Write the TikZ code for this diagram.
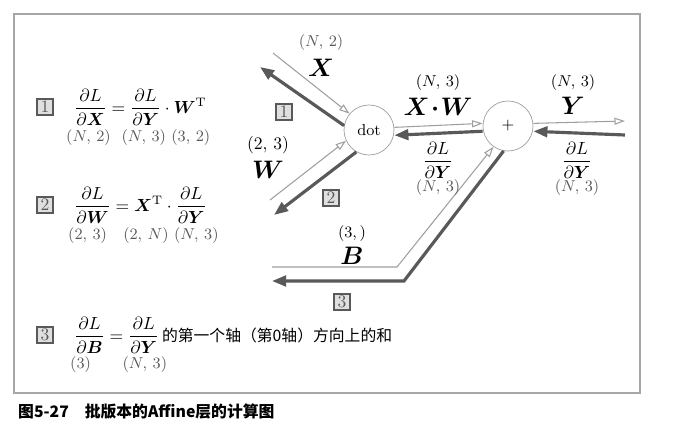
\documentclass[tikz,border=0pt]{standalone}
\usepackage{amsmath,bm}
\usepackage{fontspec}
\newfontfamily\cjk{Noto Sans CJK SC}
\usetikzlibrary{arrows.meta}
\definecolor{lg}{gray}{0.62}
\definecolor{dg}{gray}{0.35}
\begin{document}
\begin{tikzpicture}[x=0.02cm,y=-0.02cm,
  fwd/.style={lg,line width=0.6pt,-{Triangle[open,length=6pt,width=4pt]}},
  bwd/.style={dg,line width=1.8pt,-{Triangle[length=8pt,width=6pt]}},
  fwdp/.style={lg,line width=0.6pt},
  nb/.style={draw=dg,fill=gray!25,line width=0.9pt,minimum width=16*0.02cm,minimum height=16*0.02cm,inner sep=0pt,font=\normalsize,text=dg},
  gate/.style={circle,draw=lg,minimum size=50*0.02cm,inner sep=0pt,font=\small},
  dim/.style={text=dg,font=\small},
  big/.style={font=\Large}]
\useasboundingbox (0,0) rectangle (676,439);
\draw[gray!70,line width=0.6pt] (14,14) rectangle (640,393);
\node[anchor=west,font=\small\bfseries] (cap) at (12,412) {\cjk\textbf{图5-27\quad 批版本的}\textbf{Affine}\cjk\textbf{层的计算图}};
\node[gate] (dot) at (369,130) {dot};
\node[gate] (plus) at (508,126) {$+$};
\coordinate (xin) at (273,53); \coordinate (xout) at (260,67);
\coordinate (win) at (270,200); \coordinate (wout) at (274,215);
\coordinate (yout) at (625,121); \coordinate (yin) at (625,135);
\coordinate (b1) at (272,267); \coordinate (b2) at (397,267);
\coordinate (c1) at (404,281); \coordinate (c2) at (272,281);
\draw[fwd] (xin) -- (dot.140);
\draw[bwd] (dot.170) -- (xout);
\draw[fwd] (win) -- (dot.205);
\draw[bwd] (dot.240) -- (wout);
\draw[fwd] ([yshift=1.5pt]dot.east) -- ([yshift=1.5pt]plus.west);
\draw[bwd] ([yshift=-3pt]plus.west) -- ([yshift=-3pt]dot.east);
\draw[fwd] ([yshift=1.5pt]plus.east) -- (yout);
\draw[bwd] (yin) -- ([yshift=-3pt]plus.east);
\draw[fwdp,-{Triangle[open,length=6pt,width=4pt]}] (b1) -- (b2) -- (plus.235);
\draw[bwd] (plus.260) -- (c1) -- (c2);
\node[dim] (l1) at (321,43) {$(N,\,2)$};
\node[big] (l2) at (321,68) {$\bm{X}$};
\node[nb] (n1a) at (284,112) {1};
\node (l3) at (268,145) {$(2,\,3)$};
\node[big] (l4) at (268,170) {$\bm{W}$};
\node[nb] (n2a) at (331,198) {2};
\node[font=\small] (l5) at (438,83) {$(N,\,3)$};
\node[big] (l6) at (438,107) {$\bm{X\!\cdot\!W}$};
\node (l7) at (438,160) {$\dfrac{\partial L}{\partial \bm{Y}}$};
\node[dim] (l8) at (438,188) {$(N,\,3)$};
\node[font=\small] (l9) at (573,83) {$(N,\,3)$};
\node[big] (l10) at (573,106) {$\bm{Y}$};
\node (l11) at (577,160) {$\dfrac{\partial L}{\partial \bm{Y}}$};
\node[dim] (l12) at (577,188) {$(N,\,3)$};
\node[font=\small] (l13) at (352,234) {$(3,)$};
\node[big] (l14) at (352,256) {$\bm{B}$};
\node[nb] (n3a) at (342,302) {3};
\node[nb] (n1) at (45,107) {1};
\node[anchor=west] (e1) at (68,107) {$\dfrac{\partial L}{\partial \bm{X}}=\dfrac{\partial L}{\partial \bm{Y}}\cdot \bm{W}^{\mathrm{T}}$};
\node[dim,anchor=west] (d1) at (60,138) {$(N,\,2)\ \ (N,\,3)\ (3,\,2)$};
\node[nb] (n2) at (45,205) {2};
\node[anchor=west] (e2) at (68,205) {$\dfrac{\partial L}{\partial \bm{W}}=\bm{X}^{\mathrm{T}}\cdot\dfrac{\partial L}{\partial \bm{Y}}$};
\node[dim,anchor=west] (d2) at (62,236) {$(2,\,3)\ \ \ (2,\,N)\ (N,\,3)$};
\node[nb] (n3) at (45,335) {3};
\node[anchor=west] (e3) at (68,335) {$\dfrac{\partial L}{\partial \bm{B}}=\dfrac{\partial L}{\partial \bm{Y}}$\,{\cjk\small 的第一个轴（第0轴）方向上的和}};
\node[dim,anchor=west] (d3) at (64,365) {$(3)\qquad(N,\,3)$};
\end{tikzpicture}
\end{document}
